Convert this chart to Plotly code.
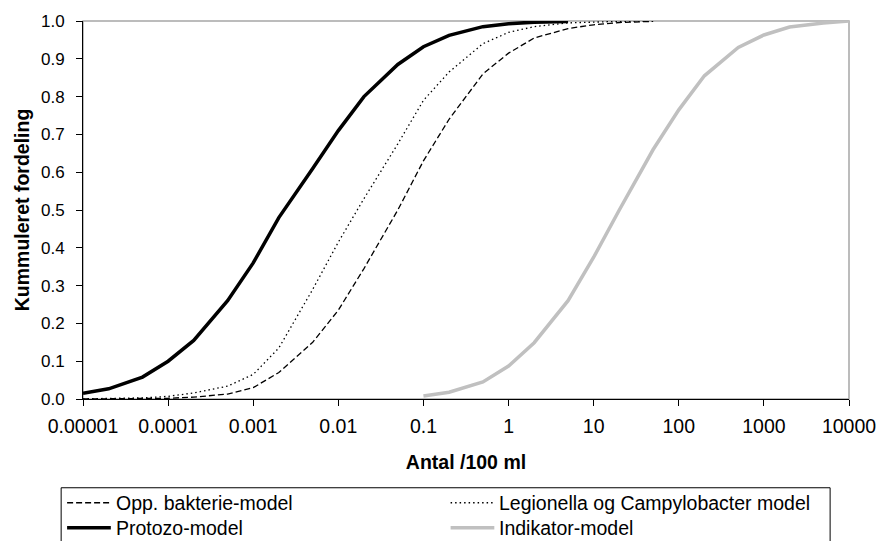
import plotly.graph_objects as go

# x positions (Antal /100 ml)
x_opp = [1e-5, 2e-5, 5e-5, 1e-4, 2e-4, 5e-4, 1e-3, 2e-3, 5e-3, 1e-2, 2e-2, 5e-2,
         0.1, 0.2, 0.5, 1, 2, 5, 10, 20, 50]
y_opp = [0.0, 0.0003, 0.001, 0.002, 0.005, 0.013, 0.03, 0.07, 0.15, 0.235, 0.345, 0.50,
         0.63, 0.74, 0.86, 0.915, 0.955, 0.98, 0.99, 0.996, 0.999]

x_leg = [1e-5, 2e-5, 5e-5, 1e-4, 2e-4, 5e-4, 1e-3, 2e-3, 5e-3, 1e-2, 2e-2, 5e-2,
         0.1, 0.2, 0.5, 1, 2, 5, 10, 20, 50]
y_leg = [0.0005, 0.001, 0.003, 0.007, 0.016, 0.034, 0.065, 0.135, 0.29, 0.415, 0.53, 0.675,
         0.79, 0.865, 0.94, 0.97, 0.985, 0.995, 0.998, 0.999, 1.0]

x_pro = [1e-5, 2e-5, 5e-5, 1e-4, 2e-4, 5e-4, 1e-3, 2e-3, 5e-3, 1e-2, 2e-2, 5e-2,
         0.1, 0.2, 0.5, 1, 2, 5]
y_pro = [0.015, 0.027, 0.058, 0.10, 0.155, 0.26, 0.36, 0.48, 0.61, 0.71, 0.80, 0.885,
         0.932, 0.962, 0.985, 0.993, 0.997, 0.999]

x_ind = [0.1, 0.2, 0.5, 1, 2, 5, 10, 20, 50, 100, 200, 500, 1000, 2000, 5000, 10000]
y_ind = [0.008, 0.018, 0.045, 0.087, 0.149, 0.26, 0.375, 0.50, 0.66, 0.765, 0.855,
         0.93, 0.963, 0.984, 0.995, 1.0]

x_tickvals = [1e-5, 1e-4, 1e-3, 1e-2, 1e-1, 1, 10, 100, 1000, 10000]
x_ticktext = ["0.00001", "0.0001", "0.001", "0.01", "0.1", "1", "10", "100", "1000", "10000"]

series_names = ["Opp. bakterie-model", "Legionella og Campylobacter model",
                "Protozo-model", "Indikator-model"]

FONT = "Liberation Sans, Arial, sans-serif"
W, H = 888, 541
L, R, T, B = 83, 34, 20, 142
PW, PH = W - L - R, H - T - B

styles = [
    dict(color="black", width=1.3, dash="6px,3px"),
    dict(color="black", width=1.3, dash="1.5px,3px"),
    dict(color="black", width=3.5),
    dict(color="#C0C0C0", width=3.5),
]

fig = go.Figure()
for xs, ys, name, st in zip([x_opp, x_leg, x_pro, x_ind], [y_opp, y_leg, y_pro, y_ind],
                            series_names, styles):
    fig.add_trace(go.Scatter(x=xs, y=ys, mode="lines", name=name, line=st,
                             showlegend=False))


def px_x(p):
    return (p - L) / PW


def px_y(p):
    return (H - B - p) / PH


shapes = [dict(type="rect", xref="paper", yref="paper", x0=0, y0=0, x1=1, y1=1,
               line=dict(color="#A6A6A6", width=1.5), layer="below")]
# legend box (extends past the bottom edge, as in the original)
shapes.append(dict(type="rect", xref="paper", yref="paper",
                   x0=px_x(61), x1=px_x(835), y0=px_y(560), y1=px_y(488),
                   line=dict(color="black", width=1), fillcolor="white", layer="above"))
annotations = []
legend_pos = [(67, 503), (453, 503), (67, 528), (453, 528)]
for (lx, ly), name, st in zip(legend_pos, series_names, styles):
    shapes.append(dict(type="line", xref="paper", yref="paper",
                       x0=px_x(lx), x1=px_x(lx + 44), y0=px_y(ly), y1=px_y(ly),
                       line=st, layer="above"))
    annotations.append(dict(xref="paper", yref="paper", x=px_x(lx + 47), y=px_y(ly),
                            xanchor="left", yanchor="middle", text=name, showarrow=False,
                            font=dict(family=FONT, size=19.5, color="black")))

fig.update_layout(
    width=W, height=H,
    margin=dict(l=L, r=R, t=T, b=B),
    paper_bgcolor="white", plot_bgcolor="white",
    font=dict(family=FONT, size=17, color="black"),
    showlegend=False,
    shapes=shapes,
    annotations=annotations,
)
fig.update_xaxes(type="log", range=[-5, 4], tickvals=x_tickvals, ticktext=x_ticktext,
                 showgrid=False, zeroline=False, showline=True, linecolor="black", linewidth=1,
                 ticks="outside", ticklen=6, tickcolor="black", ticklabelstandoff=4,
                 tickfont=dict(family=FONT, size=19.5),
                 title=dict(text="<b>Antal /100 ml</b>", standoff=18,
                            font=dict(family=FONT, size=19.5)))
fig.update_yaxes(range=[0, 1], dtick=0.1, tickformat=".1f",
                 showgrid=False, zeroline=False, showline=True, linecolor="black", linewidth=1,
                 ticks="outside", ticklen=6, tickcolor="black", ticklabelstandoff=8,
                 tickfont=dict(family=FONT, size=17),
                 title=dict(text="<b>Kummuleret fordeling</b>", standoff=6,
                            font=dict(family=FONT, size=19.5)))

fig.write_html("out.html")
